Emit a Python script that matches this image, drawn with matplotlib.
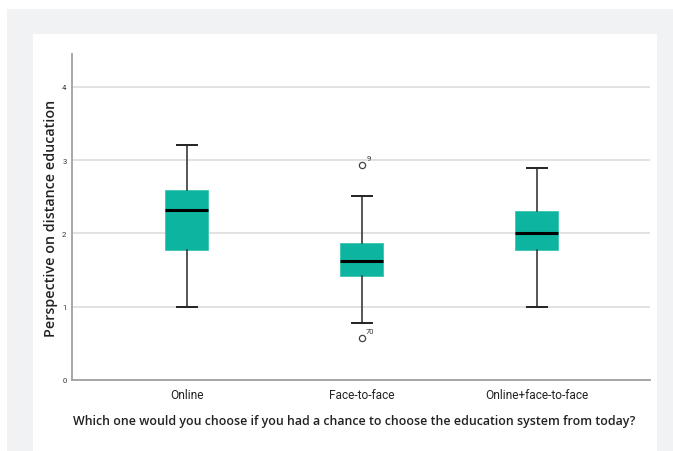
import matplotlib.pyplot as plt
from matplotlib.patches import Rectangle

# values
categories = ["Online", "Face-to-face", "Online+face-to-face"]
whislo = [1.0, 0.78, 1.0]
q1 = [1.77, 1.415, 1.78]
med = [2.32, 1.62, 2.0]
q3 = [2.594, 1.87, 2.31]
whishi = [3.21, 2.51, 2.89]
fliers = [[], [2.935, 0.577], []]
flier_ids = [[], ["9", "70"], []]

W, H = 673, 452
fig = plt.figure(figsize=(W / 100, H / 100), dpi=100)
fig.patch.set_facecolor("white")

# gray page background and white panel behind the chart
fig.add_artist(Rectangle((7 / W, 0), 1, 1 - 10 / H, transform=fig.transFigure,
                         facecolor="#f1f2f4", edgecolor="none", zorder=-10))
fig.add_artist(Rectangle((33 / W, 0), (657 - 33) / W, 1 - 35 / H, transform=fig.transFigure,
                         facecolor="white", edgecolor="none", zorder=-9))

ax = fig.add_axes([72 / W, (H - 381) / H, (650 - 72) / W, (381 - 55) / H])
ax.patch.set_alpha(0)

stats = []
for i in range(len(categories)):
    stats.append({"whislo": whislo[i], "q1": q1[i], "med": med[i], "q3": q3[i],
                  "whishi": whishi[i], "fliers": fliers[i], "label": categories[i]})

pos = list(range(len(categories)))
ax.bxp(stats, positions=pos, widths=0.246, capwidths=0.118, patch_artist=True,
       boxprops=dict(facecolor="#0db4a0", edgecolor="#3cc4b0", linewidth=0.6),
       medianprops=dict(color="black", linewidth=2.2),
       whiskerprops=dict(color="#3a3a3a", linewidth=1.2),
       capprops=dict(color="#222222", linewidth=1.4),
       flierprops=dict(marker="o", markersize=4.5, markerfacecolor="white",
                       markeredgecolor="#444444", markeredgewidth=0.9),
       zorder=3)

for i in range(len(categories)):
    for v, lab in zip(fliers[i], flier_ids[i]):
        ax.annotate(lab, (pos[i], v), xytext=(3, 3), textcoords="offset points",
                    fontsize=5.5, color="#333333", ha="left", va="bottom",
                    family="Roboto")

ax.set_xlim(-0.657, 2.646)
ax.set_ylim(0, 4.45)
ax.set_yticks([0, 1, 2, 3, 4])
ax.set_yticklabels(["0", "1", "2", "3", "4"], fontsize=5.5, color="#333333",
                   family="Roboto")
ax.yaxis.grid(True, color="#dadada", linewidth=1.1, zorder=0)
ax.set_axisbelow(True)
ax.tick_params(axis="both", length=0)
ax.tick_params(axis="y", pad=4)
ax.tick_params(axis="x", pad=6)
ax.set_xticks(pos)
ax.set_xticklabels(categories, fontsize=8.6, color="#222222", family="Roboto")

for s in ["top", "right"]:
    ax.spines[s].set_visible(False)
for s in ["left", "bottom"]:
    ax.spines[s].set_color("#a0a0a0")
    ax.spines[s].set_linewidth(1.3)

ax.set_ylabel("Perspective on distance education", fontsize=10.3, fontweight="semibold",
              color="#222222", family="Open Sans", labelpad=3)
ax.set_xlabel("Which one would you choose if you had a chance to choose the education system from today?",
              fontsize=8.9, fontweight="semibold", color="#222222", family="Open Sans",
              labelpad=9)
ax.xaxis.set_label_coords(0.488, -0.105)

fig.savefig("out.png", dpi=100)
